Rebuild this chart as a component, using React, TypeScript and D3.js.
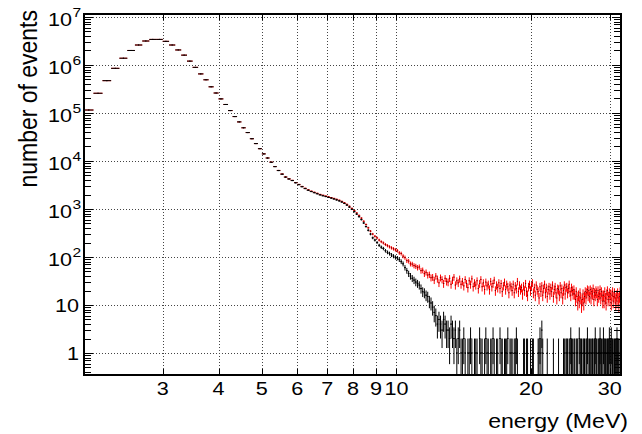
import React, { useRef, useEffect } from "react";
import * as d3 from "d3";

// histogram binning: 0.1 MeV bins starting at 2.0 MeV
const X_MIN = 2;
const BIN_WIDTH = 0.1;

// counts per bin, one row per MeV (2.x, 3.x, ... 31.x)
const blackCounts = [
  115000, 257000, 470000, 850000, 1380000, 2000000, 2600000, 3150000, 3400000, 3400000,
  3100000, 2600000, 2050000, 1600000, 1200000, 890000, 650000, 490000, 350000, 260000,
  196000, 150000, 112000, 84000, 65000, 49000, 39000, 29000, 23000, 18000,
  14000, 11500, 9400, 7600, 6300, 5300, 4600, 4200, 3900, 3500,
  3200, 2900, 2650, 2450, 2300, 2180, 2070, 1960, 1880, 1810,
  1740, 1680, 1610, 1540, 1470, 1390, 1300, 1200, 1090, 980,
  880, 780, 690, 600, 510, 430, 360, 300, 250, 225,
  200, 175, 160, 150, 135, 125, 118, 110, 104, 98,
  95, 88, 80, 72, 60, 52, 45, 40, 36, 33,
  30, 28, 26, 22, 19, 18, 16, 15, 12, 11,
  9, 7, 6, 4, 5, 4, 3, 5, 4, 3,
  3, 2, 4, 3, 2, 3, 1, 2, 3, 1,
  1, 2, 1, 0, 1, 1, 2, 1, 0, 1,
  1, 1, 0, 2, 1, 1, 0, 1, 2, 1,
  1, 0, 1, 1, 2, 1, 0, 1, 1, 0,
  2, 1, 1, 0, 1, 1, 1, 2, 0, 1,
  1, 1, 0, 1, 1, 2, 1, 0, 0, 0,
  0, 0, 1, 1, 0, 1, 1, 0, 0, 1,
  0, 1, 1, 0, 0, 0, 0, 1, 1, 2,
  1, 3, 1, 0, 0, 0, 0, 1, 0, 0,
  0, 0, 0, 0, 1, 0, 0, 0, 0, 0,
  1, 0, 0, 0, 0, 0, 1, 1, 0, 1,
  1, 1, 0, 1, 1, 2, 1, 1, 0, 1,
  1, 0, 1, 1, 1, 0, 2, 1, 1, 1,
  0, 1, 1, 1, 0, 1, 1, 2, 1, 0,
  1, 1, 0, 1, 1, 1, 0, 1, 2, 1,
  1, 0, 1, 1, 1, 2, 1, 1, 0, 1,
  2, 1, 1, 1, 0, 1, 1, 1, 1, 2,
  1, 1, 2, 1, 1, 1, 0, 1, 1, 1,
  1, 2, 1, 1, 1, 0, 1, 1, 2, 1,
];

const redCounts = [
  115000, 257000, 470000, 850000, 1380000, 2000000, 2600000, 3150000, 3400000, 3400000,
  3100000, 2600000, 2050000, 1600000, 1200000, 890000, 650000, 490000, 350000, 260000,
  196000, 150000, 112000, 84000, 65000, 49000, 39000, 29000, 23000, 18000,
  14050, 11550, 9450, 7650, 6350, 5350, 4650, 4250, 3950, 3550,
  3250, 2950, 2700, 2500, 2350, 2230, 2120, 2010, 1930, 1860,
  1790, 1730, 1660, 1590, 1520, 1440, 1350, 1250, 1140, 1030,
  925, 825, 735, 645, 555, 475, 405, 345, 300, 270,
  250, 225, 208, 196, 182, 172, 163, 155, 148, 141,
  135, 122, 118, 104, 97, 84, 82, 72, 71, 66,
  64, 60, 62, 52, 53, 45, 48, 42, 43, 37,
  38, 33, 40, 35, 29, 37, 34, 28, 36, 31,
  30, 36, 27, 33, 38, 26, 32, 29, 35, 27,
  31, 25, 34, 28, 23, 32, 27, 35, 24, 29,
  26, 32, 22, 28, 34, 24, 29, 21, 30, 25,
  27, 21, 31, 24, 28, 33, 20, 26, 23, 29,
  22, 28, 19, 25, 30, 21, 27, 24, 18, 26,
  24, 20, 27, 18, 25, 22, 31, 19, 26, 21,
  23, 17, 25, 20, 28, 19, 16, 24, 27, 20,
  25, 29, 18, 23, 16, 26, 21, 19, 14, 24,
  19, 25, 16, 22, 27, 18, 23, 15, 21, 24,
  17, 23, 19, 26, 15, 21, 24, 18, 14, 22,
  21, 16, 25, 18, 22, 14, 20, 26, 17, 23,
  24, 18, 22, 27, 19, 16, 23, 20, 17, 21,
  17, 13, 19, 15, 11, 16, 12, 18, 14, 10,
  13, 17, 11, 15, 19, 14, 18, 21, 16, 20,
  15, 21, 14, 19, 17, 22, 13, 18, 16, 20,
  18, 13, 20, 15, 17, 21, 14, 19, 16, 12,
  16, 12, 19, 14, 11, 17, 20, 13, 15, 18,
  13, 17, 11, 16, 19, 12, 15, 18, 14, 11,
  16, 12, 18, 14, 10, 15, 19, 13, 16, 14,
];

const xTicks = [3, 4, 5, 6, 7, 8, 9, 10, 20, 30];
const xTickLabels = ["3", "4", "5", "6", "7", "8", "9", "10", "20", "30"];
const yTicks = [1, 10, 1e2, 1e3, 1e4, 1e5, 1e6, 1e7];
const yTickExp = ["", "", "2", "3", "4", "5", "6", "7"];
const yTickBase = ["1", "10", "10", "10", "10", "10", "10", "10"];

const W = 642;
const H = 434;
const FONT = "'Liberation Sans', Arial, Helvetica, sans-serif";
const SX = 1.2; // the text in the picture is a bit wide

const App = () => {
  const svgRef = useRef(null);

  useEffect(() => {
    const left = 84, right = 621, top = 14, bottom = 375;
    const svg = d3.select(svgRef.current);
    svg.selectAll("*").remove();

    const x = d3.scaleLog().domain([2, 31.8]).range([left, right]);
    const y = d3.scaleLog().domain([0.348, 1.15e7]).range([bottom, top]);

    svg.append("rect").attr("width", W).attr("height", H).attr("fill", "#fff");

    svg.append("defs").append("clipPath").attr("id", "frame")
      .append("rect")
      .attr("x", left).attr("y", top)
      .attr("width", right - left).attr("height", bottom - top);

    // grid
    const grid = svg.append("g")
      .attr("stroke", "#444")
      .attr("stroke-width", 1)
      .attr("stroke-dasharray", "1 2");
    grid.selectAll("line.gx").data(xTicks).join("line")
      .attr("x1", d => Math.round(x(d)) + 0.5).attr("x2", d => Math.round(x(d)) + 0.5)
      .attr("y1", top).attr("y2", bottom);
    grid.selectAll("line.gy").data(yTicks).join("line")
      .attr("y1", d => Math.round(y(d)) + 0.5).attr("y2", d => Math.round(y(d)) + 0.5)
      .attr("x1", left).attr("x2", right);

    // histograms
    const plot = svg.append("g").attr("clip-path", "url(#frame)");
    const drawHist = (counts, color, markerOpacity) => {
      const bins = counts
        .map((n, i) => ({ n, lo: X_MIN + i * BIN_WIDTH, hi: X_MIN + (i + 1) * BIN_WIDTH }))
        .filter(d => d.n > 0);
      const g = plot.append("g").attr("stroke", color).attr("stroke-width", 1);
      g.selectAll("line.h").data(bins).join("line")
        .attr("x1", d => x(d.lo)).attr("x2", d => x(d.hi))
        .attr("y1", d => y(d.n)).attr("y2", d => y(d.n));
      g.selectAll("line.v").data(bins).join("line")
        .attr("x1", d => x((d.lo + d.hi) / 2)).attr("x2", d => x((d.lo + d.hi) / 2))
        .attr("y1", d => y(d.n + Math.sqrt(d.n)))
        .attr("y2", d => (d.n - Math.sqrt(d.n) > 0 ? y(d.n - Math.sqrt(d.n)) : bottom + 5));
      // markers (ROOT style 1 dots, black)
      plot.append("g").attr("opacity", markerOpacity)
        .selectAll("rect").data(bins).join("rect")
        .attr("x", d => x((d.lo + d.hi) / 2) - 0.5)
        .attr("y", d => y(d.n) - 0.5)
        .attr("width", 1).attr("height", 1)
        .attr("fill", "#000");
    };
    drawHist(redCounts, "#ff0000", 0.6);
    drawHist(blackCounts, "#000", 1);

    // ticks
    const ticks = svg.append("g").attr("stroke", "#000").attr("stroke-width", 1);
    const minorY = [];
    for (let k = -1; k < 7; k++) {
      for (let m = 2; m <= 9; m++) {
        const v = m * Math.pow(10, k);
        if (v > 0.348 && v < 1.15e7) minorY.push(v);
      }
    }
    [[left, 1], [right, -1]].forEach(([x0, dir]) => {
      ticks.append("g").selectAll("line").data(yTicks).join("line")
        .attr("x1", x0).attr("x2", x0 + dir * 9)
        .attr("y1", d => Math.round(y(d)) + 0.5).attr("y2", d => Math.round(y(d)) + 0.5);
      ticks.append("g").selectAll("line").data(minorY).join("line")
        .attr("x1", x0).attr("x2", x0 + dir * 7)
        .attr("y1", d => Math.round(y(d)) + 0.5).attr("y2", d => Math.round(y(d)) + 0.5);
    });
    [[bottom, -1], [top, 1]].forEach(([y0, dir]) => {
      ticks.append("g").selectAll("line").data(xTicks).join("line")
        .attr("x1", d => Math.round(x(d)) + 0.5).attr("x2", d => Math.round(x(d)) + 0.5)
        .attr("y1", y0).attr("y2", y0 + dir * 6);
    });

    // frame
    svg.append("rect")
      .attr("x", left).attr("y", top)
      .attr("width", right - left).attr("height", bottom - top)
      .attr("fill", "none").attr("stroke", "#000").attr("stroke-width", 2);

    // x tick labels
    svg.append("g").selectAll("text").data(xTicks).join("text")
      .attr("transform", d => `translate(${x(d)},${394.5}) scale(${SX},1)`)
      .attr("text-anchor", "middle")
      .attr("font-family", FONT).attr("font-size", 18)
      .text((d, i) => xTickLabels[i]);

    // y tick labels
    const yl = svg.append("g").attr("font-family", FONT);
    yTicks.forEach((v, i) => {
      const ty = y(v);
      if (yTickExp[i]) {
        yl.append("text")
          .attr("transform", `translate(${72},${ty + 9.5}) scale(${SX},1)`)
          .attr("text-anchor", "end").attr("font-size", 18)
          .text(yTickBase[i]);
        yl.append("text")
          .attr("transform", `translate(${72.5},${ty + 0.5}) scale(${SX},1)`)
          .attr("text-anchor", "start").attr("font-size", 13)
          .text(yTickExp[i]);
      } else {
        yl.append("text")
          .attr("transform", `translate(${79},${ty + 7}) scale(${SX},1)`)
          .attr("text-anchor", "end").attr("font-size", 18)
          .text(yTickBase[i]);
      }
    });

    // axis titles
    svg.append("text")
      .attr("transform", `translate(628,428) scale(1.1,1)`)
      .attr("text-anchor", "end")
      .attr("font-family", FONT).attr("font-size", 21)
      .text("energy (MeV)");
    svg.append("text")
      .attr("transform", `translate(37,10) scale(1.1,1) rotate(-90)`)
      .attr("text-anchor", "end")
      .attr("font-family", FONT).attr("font-size", 23)
      .text("number of events");
  }, []);

  return (
    <>
      <style>{`body { margin: 0; }`}</style>
      <svg ref={svgRef} width={W} height={H} style={{ display: "block" }} />
    </>
  );
};

export default App;
